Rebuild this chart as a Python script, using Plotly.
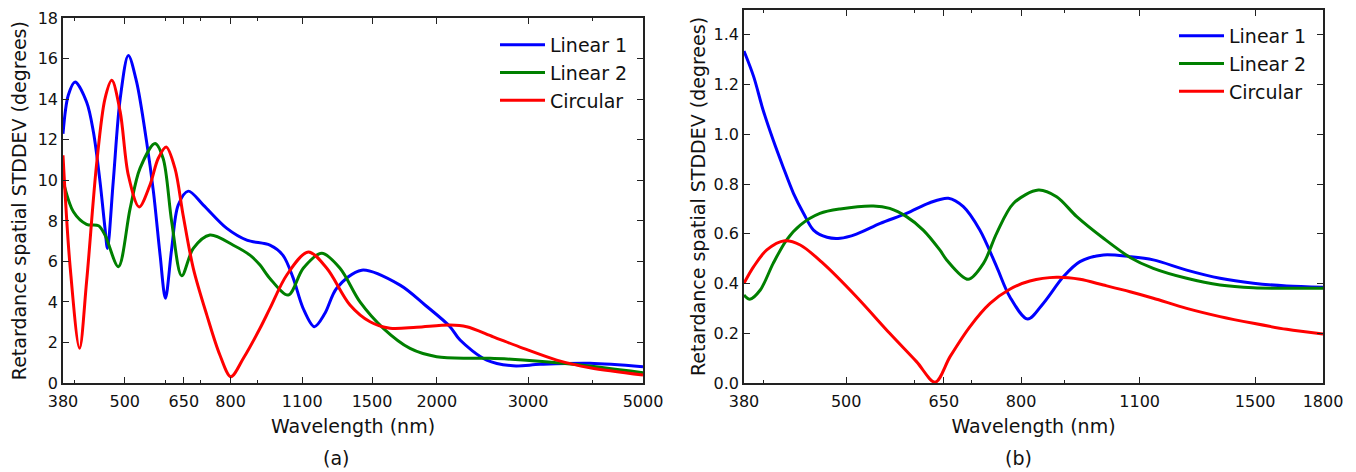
import plotly.graph_objects as go

# ---------------- Panel (a) data ----------------
a_lin1_wl = [380, 389, 401, 422, 435, 448, 458, 463, 475, 490, 508, 527, 551, 568, 585, 599, 616, 634, 663, 709,
             787, 860, 953, 1010, 1056, 1104, 1161, 1217, 1282, 1433, 1699, 1898, 2121, 2218, 2497, 2806, 3164, 3951, 5000]
a_lin1_val = [12.3, 14.2, 14.86, 13.87, 12.39, 9.93, 7.63, 6.64, 9.93, 14.04, 16.17, 14.86, 11.9, 9.43, 6.31, 4.18, 6.64, 8.78, 9.47, 8.78,
              7.63, 7.05, 6.8, 6.3, 5.2, 3.7, 2.78, 3.44, 4.68, 5.57, 4.83, 3.85, 2.78, 2.12, 1.13, 0.85, 0.92, 0.97, 0.80]

a_lin2_wl = [380, 398, 422, 445, 458, 486, 512, 535, 572, 593, 616, 644, 678, 730, 810, 872, 912, 953, 1034, 1105,
             1200, 1301, 1422, 1577, 1776, 1999, 2318, 2534, 2934, 3664, 5000]
a_lin2_val = [10.0, 8.45, 7.83, 7.76, 7.3, 5.74, 8.61, 10.59, 11.82, 11.08, 7.95, 5.29, 6.64, 7.3, 6.8, 6.31, 5.82, 5.16, 4.34, 5.66,
              6.4, 5.66, 4.0, 2.7, 1.71, 1.3, 1.22, 1.22, 1.13, 0.92, 0.51]

a_circ_wl = [380, 392, 409, 422, 441, 458, 472, 490, 508, 533, 559, 580, 601, 625, 648, 678, 720, 763, 801, 847,
             912, 953, 1027, 1130, 1227, 1360, 1487, 1625, 1829, 2121, 2284, 2571, 2938, 3408, 3951, 5000]
a_circ_val = [11.24, 5.82, 1.71, 5.0, 10.75, 14.04, 14.94, 13.38, 10.26, 8.69, 9.76, 11.08, 11.65, 10.59, 8.28, 5.66, 3.35, 1.38, 0.31, 1.22,
              2.7, 3.68, 5.33, 6.47, 5.66, 3.85, 3.02, 2.7, 2.75, 2.86, 2.78, 2.28, 1.71, 1.13, 0.75, 0.39]

a_ticks = [380, 500, 650, 800, 1100, 1500, 2000, 3000, 5000]
a_minor = [400, 600, 700, 900, 4000]

# ---------------- Panel (b) data ----------------
b_lin1_wl = [380, 390, 400, 411, 422, 434, 446, 458, 475, 492, 514, 548, 588, 626, 658, 685, 716, 749, 776, 814,
             849, 896, 937, 998, 1072, 1141, 1248, 1365, 1493, 1633, 1800]
b_lin1_val = [1.335, 1.232, 1.098, 0.977, 0.870, 0.763, 0.682, 0.615, 0.586, 0.582, 0.599, 0.642, 0.682, 0.725, 0.743, 0.709, 0.615, 0.468, 0.347, 0.257,
              0.320, 0.427, 0.488, 0.515, 0.508, 0.495, 0.454, 0.421, 0.401, 0.390, 0.385]

b_lin2_wl = [380, 386, 397, 411, 426, 442, 466, 492, 538, 562, 588, 615, 643, 655, 694, 723, 749, 784, 838, 880,
             929, 998, 1072, 1141, 1248, 1365, 1493, 1800]
b_lin2_val = [0.354, 0.337, 0.374, 0.481, 0.575, 0.635, 0.682, 0.700, 0.712, 0.702, 0.669, 0.615, 0.535, 0.495, 0.417, 0.481, 0.602, 0.723, 0.776, 0.749,
              0.669, 0.582, 0.505, 0.461, 0.421, 0.394, 0.383, 0.381]

b_circ_wl = [380, 390, 404, 424, 442, 470, 514, 562, 604, 635, 661, 697, 736, 776, 819, 880, 937, 998, 1072, 1141,
             1248, 1365, 1493, 1633, 1800]
b_circ_val = [0.401, 0.468, 0.535, 0.572, 0.555, 0.481, 0.347, 0.200, 0.086, 0.003, 0.106, 0.226, 0.320, 0.377, 0.410, 0.425, 0.417, 0.394, 0.367, 0.341,
              0.300, 0.267, 0.240, 0.216, 0.197]

b_ticks = [380, 500, 650, 800, 1100, 1500, 1800]
b_minor = [400, 600, 700, 900]

series_names = ["Linear 1", "Linear 2", "Circular"]
colors = ["#0000ff", "#008000", "#ff0000"]

FONT = "DejaVu Sans, Bitstream Vera Sans, sans-serif"

fig = go.Figure()

panel_a = [(a_lin1_wl, a_lin1_val), (a_lin2_wl, a_lin2_val), (a_circ_wl, a_circ_val)]
panel_b = [(b_lin1_wl, b_lin1_val), (b_lin2_wl, b_lin2_val), (b_circ_wl, b_circ_val)]

for (wl, val), name, col in zip(panel_a, series_names, colors):
    fig.add_trace(go.Scatter(x=wl, y=val, name=name, mode="lines",
                             line=dict(color=col, width=3, shape="spline", smoothing=0.9),
                             xaxis="x", yaxis="y", legend="legend"))
for (wl, val), name, col in zip(panel_b, series_names, colors):
    fig.add_trace(go.Scatter(x=wl, y=val, name=name, mode="lines",
                             line=dict(color=col, width=3, shape="spline", smoothing=0.9),
                             xaxis="x2", yaxis="y2", legend="legend2"))

W, H = 1356, 472
yb = 1 - 383 / H

axis_common = dict(showline=True, linecolor="#222", linewidth=1.5, mirror="ticks",
                   ticks="inside", ticklen=6, tickwidth=1, tickcolor="#222",
                   showgrid=False, zeroline=False, automargin=False,
                   tickfont=dict(family=FONT, size=16, color="#111"))

xt = dict(text="Wavelength (nm)", font=dict(family=FONT, size=19), standoff=10)
yt = "Retardance spatial STDDEV (degrees)"

fig.update_layout(
    width=W, height=H,
    margin=dict(l=0, r=0, t=0, b=0, autoexpand=False),
    paper_bgcolor="white", plot_bgcolor="white",
    font=dict(family=FONT, color="#111"),
    xaxis=dict(domain=[63 / W, 643 / W], type="log", anchor="y",
               range=[2.5798, 3.69897], tickmode="array", tickvals=a_ticks,
               ticktext=[str(t) for t in a_ticks], ticklabelstandoff=3,
               minor=dict(tickmode="array", tickvals=a_minor, ticks="inside", ticklen=3, tickcolor="#222"),
               title=xt, **axis_common),
    yaxis=dict(domain=[yb, 1 - 18.3 / H], anchor="x", range=[0, 18], dtick=2,
               title=dict(text=yt, font=dict(family=FONT, size=19), standoff=6),
               **axis_common),
    xaxis2=dict(domain=[744 / W, 1323 / W], type="log", anchor="y2",
                range=[2.5798, 3.25527], tickmode="array", tickvals=b_ticks,
                ticktext=[str(t) for t in b_ticks], ticklabelstandoff=3,
                minor=dict(tickmode="array", tickvals=b_minor, ticks="inside", ticklen=3, tickcolor="#222"),
                title=xt, **axis_common),
    yaxis2=dict(domain=[yb, 1 - 10 / H], anchor="x2", range=[0, 1.5], dtick=0.2,
                tickformat=".1f",
                title=dict(text=yt, font=dict(family=FONT, size=19), standoff=3),
                **axis_common),
    legend=dict(x=495 / W, y=1 - 26 / H, xanchor="left", yanchor="top",
                bgcolor="rgba(0,0,0,0)", font=dict(family=FONT, size=19),
                itemwidth=45, tracegroupgap=0),
    legend2=dict(x=1174 / W, y=1 - 17 / H, xanchor="left", yanchor="top",
                 bgcolor="rgba(0,0,0,0)", font=dict(family=FONT, size=19),
                 itemwidth=45, tracegroupgap=0),
    showlegend=True,
    annotations=[
        dict(text="(a)", x=336 / W, y=1 - 458 / H, xref="paper", yref="paper",
             xanchor="center", yanchor="middle",
             showarrow=False, font=dict(family=FONT, size=19)),
        dict(text="(b)", x=1018 / W, y=1 - 458 / H, xref="paper", yref="paper",
             xanchor="center", yanchor="middle",
             showarrow=False, font=dict(family=FONT, size=19)),
    ],
)

fig.write_html("out.html")
